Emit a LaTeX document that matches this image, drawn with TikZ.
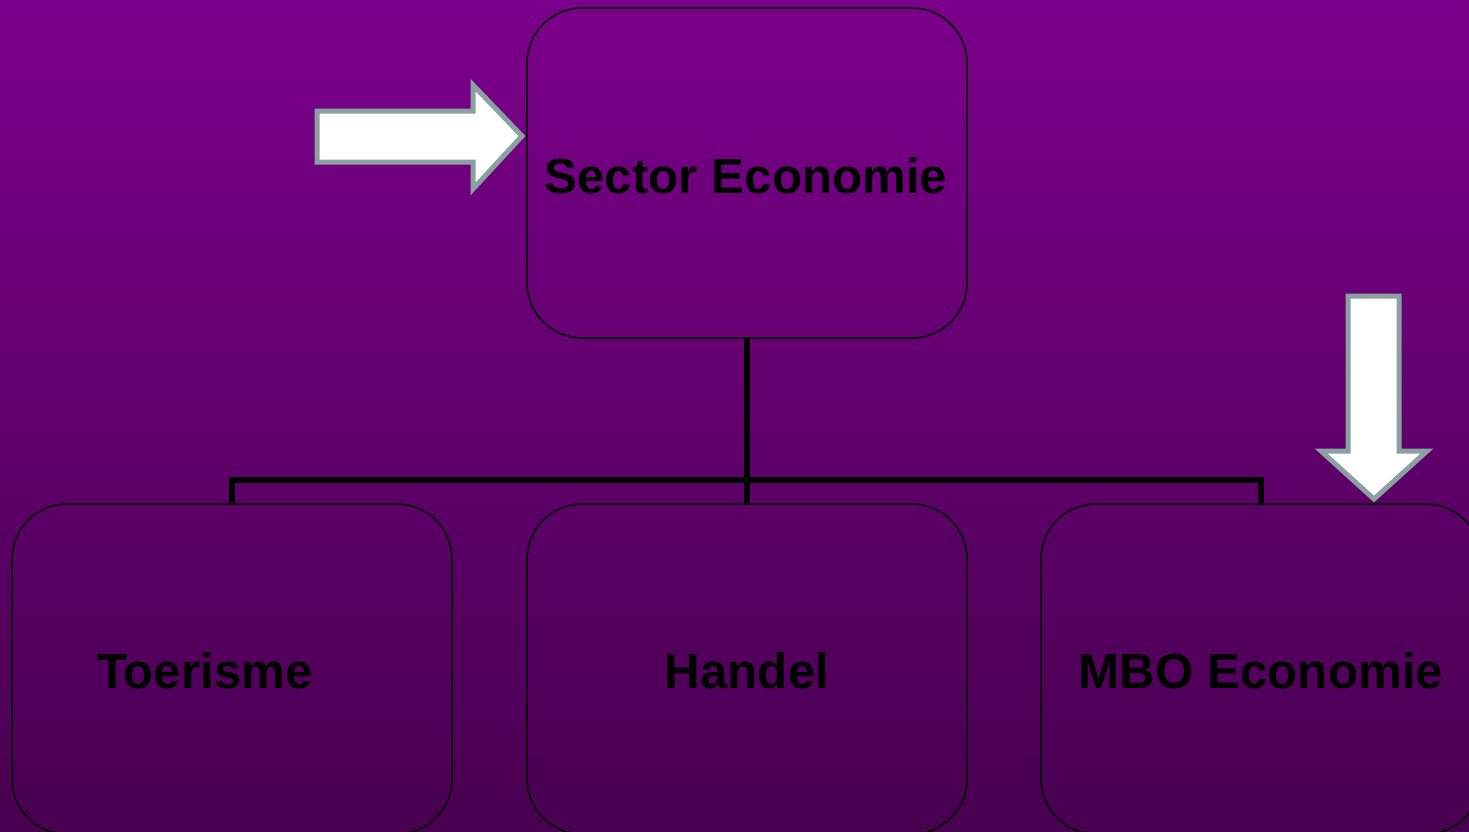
\documentclass[tikz,border=0pt]{standalone}
\usepackage{fontspec}
\setmainfont{Liberation Sans}
\usetikzlibrary{positioning}
\definecolor{bgtop}{RGB}{123,0,139}
\definecolor{bgbottom}{RGB}{72,0,80}
\definecolor{arrowrim}{RGB}{139,161,161}
\tikzset{
  orgbox/.style={draw=black, line width=1.5pt, rounded corners=55pt,
    minimum width=440pt, minimum height=330pt, inner sep=0pt},
  orgtext/.style={anchor=base, font=\fontsize{49.3}{60}\selectfont\bfseries, text=black},
  tree/.style={draw=black, line width=6pt},
  bigarrow/.style={fill=white, draw=arrowrim, line width=5pt}
}
\begin{document}
\begin{tikzpicture}[x=1pt,y=-1pt]
\useasboundingbox (0,0) rectangle (1469,831);
\clip (0,0) rectangle (1469,831);
\shade[top color=bgtop, bottom color=bgbottom] (0,0) rectangle (1469,831);
% boxes
\node[orgbox] (sector) at (747,173) {};
\node[orgbox] (toerisme) at (232,669) {};
\node[orgbox] (handel) at (747,669) {};
\node[orgbox] (mbo) at (1261,669) {};
% texts
\node[orgtext] (sectortext) at (746,193) {Sector Economie};
\node[orgtext] (toerismetext) at (205,688) {Toerisme};
\node[orgtext] (handeltext) at (747,688) {Handel};
\node[orgtext] (mbotext) at (1261,688) {MBO Economie};
% connectors
\draw[tree] (sector.south) -- (handel.north);
\draw[tree] (toerisme.north) -- ++(0,-23) -| (mbo.north);
% arrows
\draw[bigarrow] (317,111) -- (473,111) -- (473,85) -- (522,136)
  -- (473,189) -- (473,162) -- (317,162) -- cycle;
\draw[bigarrow] (1348,296) -- (1399,296) -- (1399,451) -- (1427,451)
  -- (1374,499) -- (1321,451) -- (1348,451) -- cycle;
\end{tikzpicture}
\end{document}
